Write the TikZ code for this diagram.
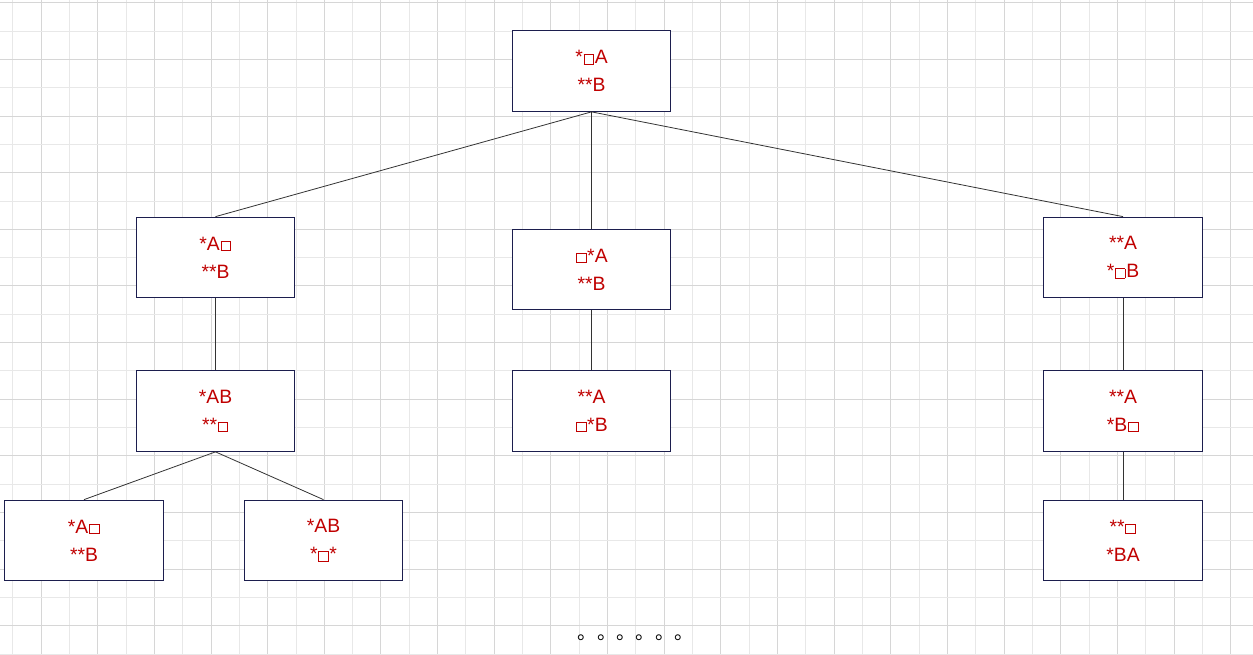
\documentclass[tikz,border=0pt]{standalone}
\usepackage{fontspec}
\setmainfont{Liberation Sans}
\newfontfamily\cjkfont{Noto Sans CJK SC}
\usepackage{tikz}
\usetikzlibrary{positioning}
\definecolor{stRed}{HTML}{C00000}
\definecolor{stNavy}{HTML}{1C1E4E}
\tikzset{
  stbox/.style={rectangle, draw=stNavy, line width=0.8pt, fill=white,
                minimum width=119pt, minimum height=60.5pt, inner sep=0pt,
                align=center, text=stRed, font=\fontsize{14.5}{21}\selectfont},
  stedge/.style={draw=black!80, line width=0.6pt},
  stgridA/.style={draw=black!9, line width=0.75pt},
  stgridB/.style={draw=black!16, line width=0.75pt},
}
\newcommand{\stSq}{\kern0.6pt{\fboxsep=0pt\fboxrule=0.6pt\fbox{\rule{0pt}{6.5pt}\kern6.5pt}}\kern0.6pt}

\begin{document}
\begin{tikzpicture}[x=0.75pt, y=-0.75pt]
  \useasboundingbox (0,0) rectangle (1253,655);
  \fill[white] (0,0) rectangle (1253,655);
  % grid
  \foreach \k in {0,...,43}{
    \pgfmathsetmacro{\gx}{12.7+28.33*\k}
    \ifodd\k \draw[stgridB] (\gx,0) -- (\gx,655); \else \draw[stgridA] (\gx,0) -- (\gx,655); \fi
  }
  \foreach \k in {0,...,23}{
    \pgfmathsetmacro{\gy}{2.7+28.33*\k}
    \ifodd\k \draw[stgridA] (0,\gy) -- (1253,\gy); \else \draw[stgridB] (0,\gy) -- (1253,\gy); \fi
  }
  % states
  \node[stbox] (S0) at (591.5,71) {*\stSq A\\**B};
  \node[stbox] (L1) at (215.5,257.5) {*A\stSq\\**B};
  \node[stbox] (M1) at (591.5,269.5) {\stSq*A\\**B};
  \node[stbox] (R1) at (1123,257.5) {**A\\*\stSq B};
  \node[stbox] (L2) at (215.5,411) {*AB\\**\stSq};
  \node[stbox] (M2) at (591.5,411) {**A\\\stSq*B};
  \node[stbox] (R2) at (1123,411) {**A\\*B\stSq};
  \node[stbox] (L3a) at (84,540.5) {*A\stSq\\**B};
  \node[stbox] (L3b) at (323.5,540.5) {*AB\\*\stSq*};
  \node[stbox] (R3) at (1123,540.5) {**\stSq\\*BA};
  % moves
  \draw[stedge] (S0.south) -- (L1.north);
  \draw[stedge] (S0.south) -- (M1.north);
  \draw[stedge] (S0.south) -- (R1.north);
  \draw[stedge] (L1.south) -- (L2.north);
  \draw[stedge] (M1.south) -- (M2.north);
  \draw[stedge] (R1.south) -- (R2.north);
  \draw[stedge] (L2.south) -- (L3a.north);
  \draw[stedge] (L2.south) -- (L3b.north);
  \draw[stedge] (R2.south) -- (R3.north);
  \node[anchor=base west, inner sep=0pt, font=\cjkfont\fontsize{14.5}{14.5}\selectfont] (more) at (577.5,639) {。。。。。。};
\end{tikzpicture}
\end{document}
